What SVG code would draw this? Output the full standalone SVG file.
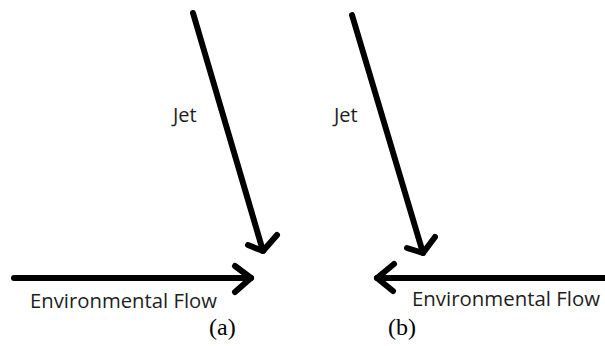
<svg xmlns="http://www.w3.org/2000/svg" width="605" height="346" viewBox="0 0 605 346">
<style>
.ln{fill:none;stroke:#000;stroke-width:6;stroke-linecap:round;stroke-linejoin:round}
.lbl{font-family:"Open Sans","Liberation Sans",sans-serif;font-size:20px;fill:#1e1e1e}
.cap{font-family:"Liberation Serif",serif;font-size:24px;fill:#000}
</style>
<rect width="605" height="346" fill="#fff"/>
<g id="connectors">
<path class="ln" d="M193,13 L263,251"/>
<path class="ln" d="M248,245 L263,251 L277,235"/>
<path class="ln" d="M14,278 L251,278"/>
<path class="ln" d="M235,266 L251,278 L235,292"/>
<path class="ln" d="M352,15 L423,253"/>
<path class="ln" d="M407,248 L423,253 L435,237"/>
<path class="ln" d="M605,278 L377,278"/>
<path class="ln" d="M394,264 L377,278 L393,291"/>
</g>
<g id="jet-a"><text class="lbl" x="173" y="122">Jet</text></g>
<g id="jet-b"><text class="lbl" x="334" y="122">Jet</text></g>
<g id="flow-a"><text class="lbl" x="30" y="308" textLength="187" lengthAdjust="spacingAndGlyphs">Environmental Flow</text></g>
<g id="flow-b"><text class="lbl" x="412" y="306" textLength="188" lengthAdjust="spacingAndGlyphs">Environmental Flow</text></g>
<g id="label-a"><text class="cap" x="209" y="335">(a)</text></g>
<g id="label-b"><text class="cap" x="388" y="335">(b)</text></g>
</svg>
